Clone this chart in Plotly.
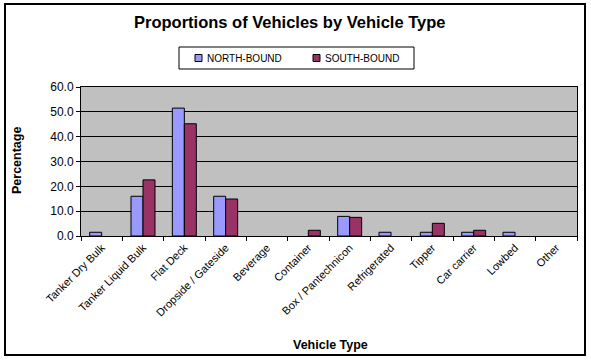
import plotly.graph_objects as go

categories = ["Tanker Dry Bulk", "Tanker Liquid Bulk", "Flat Deck", "Dropside / Gateside",
              "Beverage", "Container", "Box / Pantechnicon", "Refrigerated", "Tipper",
              "Car carrier", "Lowbed", "Other"]
north_bound = [1.5, 16.0, 51.5, 16.0, 0.0, 0.0, 7.9, 1.5, 1.5, 1.5, 1.5, 0.0]
south_bound = [0.0, 22.6, 45.2, 14.9, 0.0, 2.3, 7.5, 0.0, 5.1, 2.3, 0.0, 0.0]
y_ticks = [0, 10, 20, 30, 40, 50, 60]

W, H = 591, 361
FONT = "Arial, Liberation Sans, sans-serif"
NORTH_C, SOUTH_C = "#9999FF", "#993366"


def py(p):
    return 1 - p / H


def px(p):
    return p / W


fig = go.Figure()
fig.add_trace(go.Bar(name="NORTH-BOUND", x=categories, y=north_bound, hoverinfo="skip",
                     marker=dict(color=NORTH_C,
                                 line=dict(color="black", width=[1 if v > 0 else 0 for v in north_bound]))))
fig.add_trace(go.Bar(name="SOUTH-BOUND", x=categories, y=south_bound, hoverinfo="skip",
                     marker=dict(color=SOUTH_C,
                                 line=dict(color="black", width=[1 if v > 0 else 0 for v in south_bound]))))

px_l, px_r, px_t, px_b = 81, 577, 87, 236
fig.update_layout(
    width=W, height=H,
    margin=dict(l=0, r=0, t=0, b=0),
    paper_bgcolor="white",
    plot_bgcolor="#C0C0C0",
    barmode="group",
    bargap=0.42,
    bargroupgap=0,
    font=dict(family=FONT, color="black"),
    showlegend=False,
    xaxis=dict(domain=[px(px_l), px(px_r)], tickangle=-45, tickson="boundaries",
               ticks="outside", ticklen=4, tickcolor="black", showgrid=False,
               showline=True, linecolor="black", linewidth=1, mirror=True,
               tickfont=dict(size=11, family=FONT, color="black"), automargin=False),
    yaxis=dict(domain=[py(px_b), py(px_t)], range=[0, 60], tickvals=y_ticks,
               tickformat=".1f", ticks="outside", ticklen=4, tickcolor="black",
               showgrid=True, gridcolor="black", gridwidth=1,
               showline=True, linecolor="black", linewidth=1, mirror=True, zeroline=False,
               tickfont=dict(size=12, family=FONT, color="black"), automargin=False),
)

shapes = [
    # outer chart frame
    dict(type="rect", xref="paper", yref="paper", x0=px(5), x1=px(585), y0=py(355), y1=py(4),
         line=dict(color="black", width=2), fillcolor="rgba(0,0,0,0)", layer="below"),
    # legend box
    dict(type="rect", xref="paper", yref="paper", x0=px(179), x1=px(414), y0=py(69), y1=py(47),
         line=dict(color="black", width=1), fillcolor="white", layer="below"),
    # legend swatches
    dict(type="rect", xref="paper", yref="paper", x0=px(195), x1=px(202), y0=py(61.5), y1=py(54.5),
         line=dict(color="black", width=1), fillcolor=NORTH_C),
    dict(type="rect", xref="paper", yref="paper", x0=px(313), x1=px(320), y0=py(61.5), y1=py(54.5),
         line=dict(color="black", width=1), fillcolor=SOUTH_C),
]
fig.update_layout(shapes=shapes)

annotations = [
    dict(text="<b>Proportions of Vehicles by Vehicle Type</b>", x=px(289), y=py(22),
         xanchor="center", font=dict(size=16.5, family=FONT)),
    dict(text="NORTH-BOUND", x=px(205), y=py(58), xanchor="left",
         font=dict(size=10, family=FONT)),
    dict(text="SOUTH-BOUND", x=px(323), y=py(58), xanchor="left",
         font=dict(size=10, family=FONT)),
    dict(text="<b>Vehicle Type</b>", x=px(330), y=py(345), xanchor="center",
         font=dict(size=12.5, family=FONT)),
    dict(text="<b>Percentage</b>", x=px(17), y=py(161), xanchor="center", textangle=-90,
         font=dict(size=12.5, family=FONT)),
]
for a in annotations:
    fig.add_annotation(xref="paper", yref="paper", showarrow=False, yanchor="middle", **a)

fig.write_html("out.html", config={"displayModeBar": False, "staticPlot": True},
               post_script="document.body.style.margin='0';document.body.style.overflow='hidden';")
